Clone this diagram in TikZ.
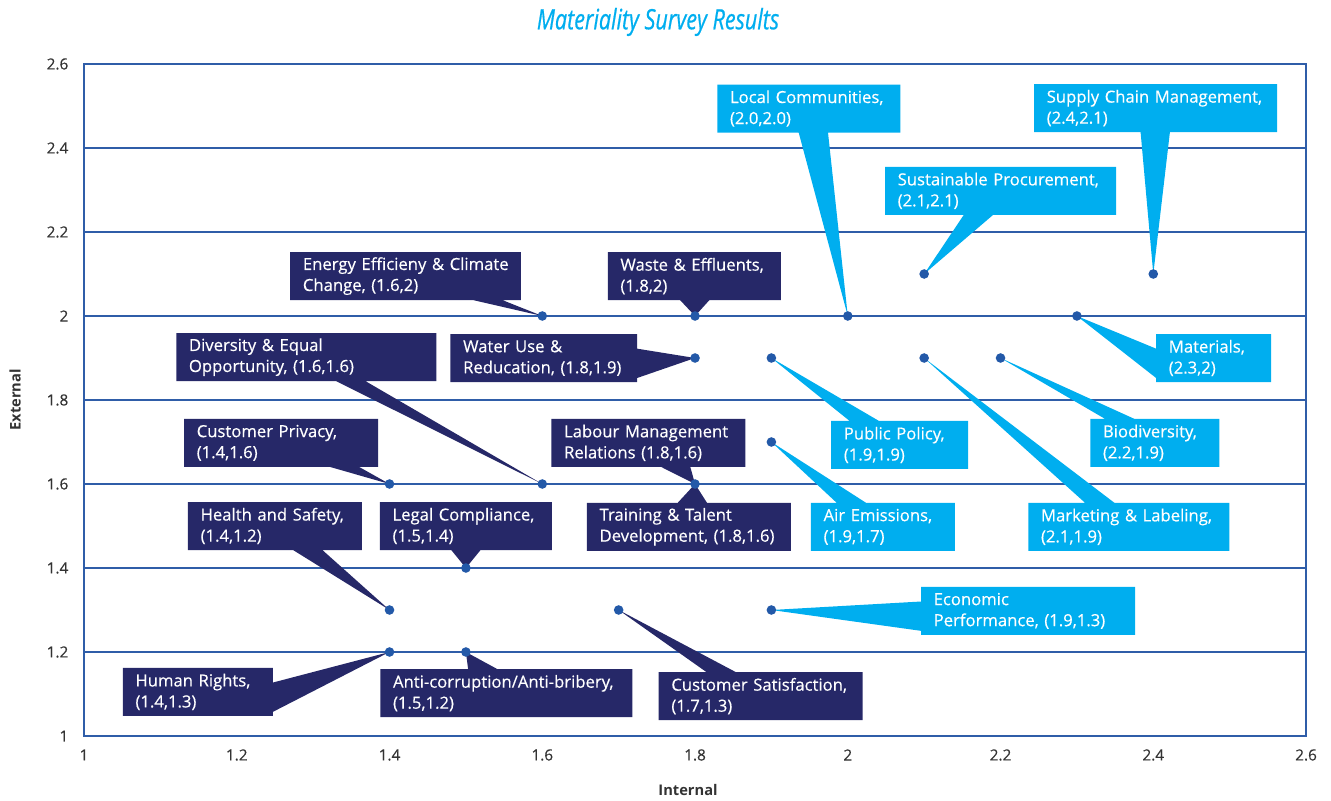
\documentclass[tikz,border=0pt]{standalone}
\usepackage{fontspec}
\setmainfont{Open Sans}
\newfontfamily\titlefont[FakeStretch=0.77,FakeBold=0.6]{Open Sans}
\newfontfamily\medfont[FakeBold=0.4]{Open Sans}
\usetikzlibrary{shapes.callouts}

\definecolor{navybox}{HTML}{262868}
\definecolor{cyanbox}{HTML}{00AEEF}
\definecolor{gridblue}{HTML}{2F5DA8}
\definecolor{dotblue}{HTML}{2359A8}
\definecolor{ticktext}{HTML}{333333}

\tikzset{
 gridline/.style={gridblue, line width=1pt},
 ticklbl/.style={text=ticktext, font=\medfont\fontsize{11.5}{12}\selectfont},
 axislbl/.style={text=ticktext, font=\bfseries\fontsize{11}{12}\selectfont},
 lbl/.style={rectangle callout, text=white, align=left, inner xsep=9.5pt,
   minimum height=36pt, callout pointer width=22pt,
   font=\medfont\fontsize{12.5}{15.75}\selectfont},
 navylbl/.style={lbl, fill=navybox},
 cyanlbl/.style={lbl, fill=cyanbox},
 dotmark/.style={dotblue},
}

\begin{document}
\begin{tikzpicture}[x=572.8125pt, y=315pt]
 \useasboundingbox (0.89,0.8476) rectangle (2.6327,2.7524);
 % grid and frame
 \foreach \y in {1.2,1.4,1.6,1.8,2,2.2,2.4}
   \draw[gridline] (1,\y) -- (2.6,\y);
 \draw[gridline] (1,1) rectangle (2.6,2.6);
 % tick labels
 \foreach \y in {1,1.2,1.4,1.6,1.8,2,2.2,2.4,2.6}
   \node[ticklbl, anchor=east] at (0.9856,\y) {\y};
 \foreach \x in {1,1.2,1.4,1.6,1.8,2,2.2,2.4,2.6}
   \node[ticklbl] at (\x,0.9548) {\x};
 % titles
 \node[text=cyanbox, font=\titlefont\itshape\fontsize{21}{24}\selectfont] (title) at (1.7516,2.7) {Materiality Survey Results};
 \node[axislbl] (xtitle) at (1.7908,0.8714) {Internal};
 \node[axislbl, rotate=90] (ytitle) at (0.9097,1.8) {External};

 % data points
 \coordinate (energy) at (1.6,2); %Energy Efficieny
 \coordinate (waste) at (1.8,2);
 \coordinate (local) at (2.0,2.0);
 \coordinate (sustain) at (2.1,2.1);
 \coordinate (supply) at (2.4,2.1);
 \coordinate (materials) at (2.3,2);
 \coordinate (water) at (1.8,1.9);
 \coordinate (policy) at (1.9,1.9);
 \coordinate (marketing) at (2.1,1.9);
 \coordinate (biodiv) at (2.2,1.9);
 \coordinate (air) at (1.9,1.7);
 \coordinate (privacy) at (1.4,1.6);
 \coordinate (diversity) at (1.6,1.6);
 \coordinate (labour) at (1.8,1.6); %Labour = Training
 \coordinate (legal) at (1.5,1.4);
 \coordinate (health) at (1.4,1.3);
 \coordinate (custsat) at (1.7,1.3);
 \coordinate (economic) at (1.9,1.3);
 \coordinate (human) at (1.4,1.2);
 \coordinate (anticorr) at (1.5,1.2);

 % dark labels
 \node[navylbl, text width=154pt, callout absolute pointer={(energy)}] (energylbl) at (1.421,2.095) {\mbox{Energy Efficieny \& Climate}\\Change, (1.6,2)};
 \node[navylbl, text width=110.75pt, callout absolute pointer={(waste)}] (wastelbl) at (1.799,2.095) {Waste \& Effluents,\\(1.8,2)};
 \node[navylbl, text width=176pt, callout absolute pointer={(diversity)}] (diversitylbl) at (1.291,1.902) {Diversity \& Equal\\Opportunity, (1.6,1.6)};
 \node[navylbl, text width=121pt, callout absolute pointer={(water)}] (waterlbl) at (1.602,1.9) {Water Use \&\\Reducation, (1.8,1.9)};
 \node[navylbl, text width=126.5pt, callout absolute pointer={(privacy)}] (privacylbl) at (1.258,1.698) {Customer Privacy,\\(1.4,1.6)};
 \node[navylbl, text width=126.5pt, callout absolute pointer={(labour)}] (labourlbl) at (1.739,1.698) {Labour Management\\Relations (1.8,1.6)};
 \node[navylbl, text width=134pt, callout absolute pointer={(labour)}] (traininglbl) at (1.792,1.498) {Training \& Talent\\Development, (1.8,1.6)};
 \node[navylbl, text width=111.5pt, callout absolute pointer={(health)}] (healthlbl) at (1.25,1.5) {Health and Safety,\\(1.4,1.2)};
 \node[navylbl, text width=110pt, callout absolute pointer={(legal)}] (legallbl) at (1.5,1.5) {Legal Compliance,\\(1.5,1.4)};
 \node[navylbl, text width=93.5pt, callout absolute pointer={(human)}] (humanlbl) at (1.149,1.105) {Human Rights,\\(1.4,1.3)};
 \node[navylbl, text width=170pt, callout absolute pointer={(anticorr)}] (anticorrlbl) at (1.553,1.102) {Anti-corruption/Anti-bribery,\\(1.5,1.2)};
 \node[navylbl, text width=134pt, callout absolute pointer={(custsat)}] (custsatlbl) at (1.886,1.095) {Customer Satisfaction,\\(1.7,1.3)};

 % light labels
 \node[cyanlbl, text width=118.25pt, callout absolute pointer={(local)}] (locallbl) at (1.949,2.494) {Local Communities,\\(2.0,2.0)};
 \node[cyanlbl, text width=163.25pt, callout absolute pointer={(supply)}] (supplylbl) at (2.403,2.495) {Supply Chain Management,\\(2.4,2.1)};
 \node[cyanlbl, text width=154.25pt, callout absolute pointer={(sustain)}] (sustainlbl) at (2.2,2.298) {Sustainable Procurement,\\(2.1,2.1)};
 \node[cyanlbl, text width=67.25pt, callout absolute pointer={(materials)}] (materialslbl) at (2.479,1.9) {Materials,\\(2.3,2)};
 \node[cyanlbl, text width=77.75pt, callout absolute pointer={(biodiv)}] (biodivlbl) at (2.402,1.698) {Biodiversity,\\(2.2,1.9)};
 \node[cyanlbl, text width=131.75pt, callout absolute pointer={(marketing)}] (marketinglbl) at (2.368,1.498) {Marketing \& Labeling,\\(2.1,1.9)};
 \node[cyanlbl, text width=83.75pt, callout absolute pointer={(policy)}] (policylbl) at (2.068,1.693) {Public Policy,\\(1.9,1.9)};
 \node[cyanlbl, text width=89pt, callout absolute pointer={(air)}] (airlbl) at (2.046,1.498) {Air Emissions,\\(1.9,1.7)};
 \node[cyanlbl, text width=141.5pt, callout absolute pointer={(economic)}] (economiclbl) at (2.236,1.298) {Economic\\Performance, (1.9,1.3)};

 % dots
 \foreach \p in {energy,waste,local,sustain,supply,materials,water,policy,marketing,biodiv,air,privacy,diversity,labour,legal,health,custsat,economic,human,anticorr}
   \fill[dotmark] (\p) circle (3.6pt);
\end{tikzpicture}
\end{document}
